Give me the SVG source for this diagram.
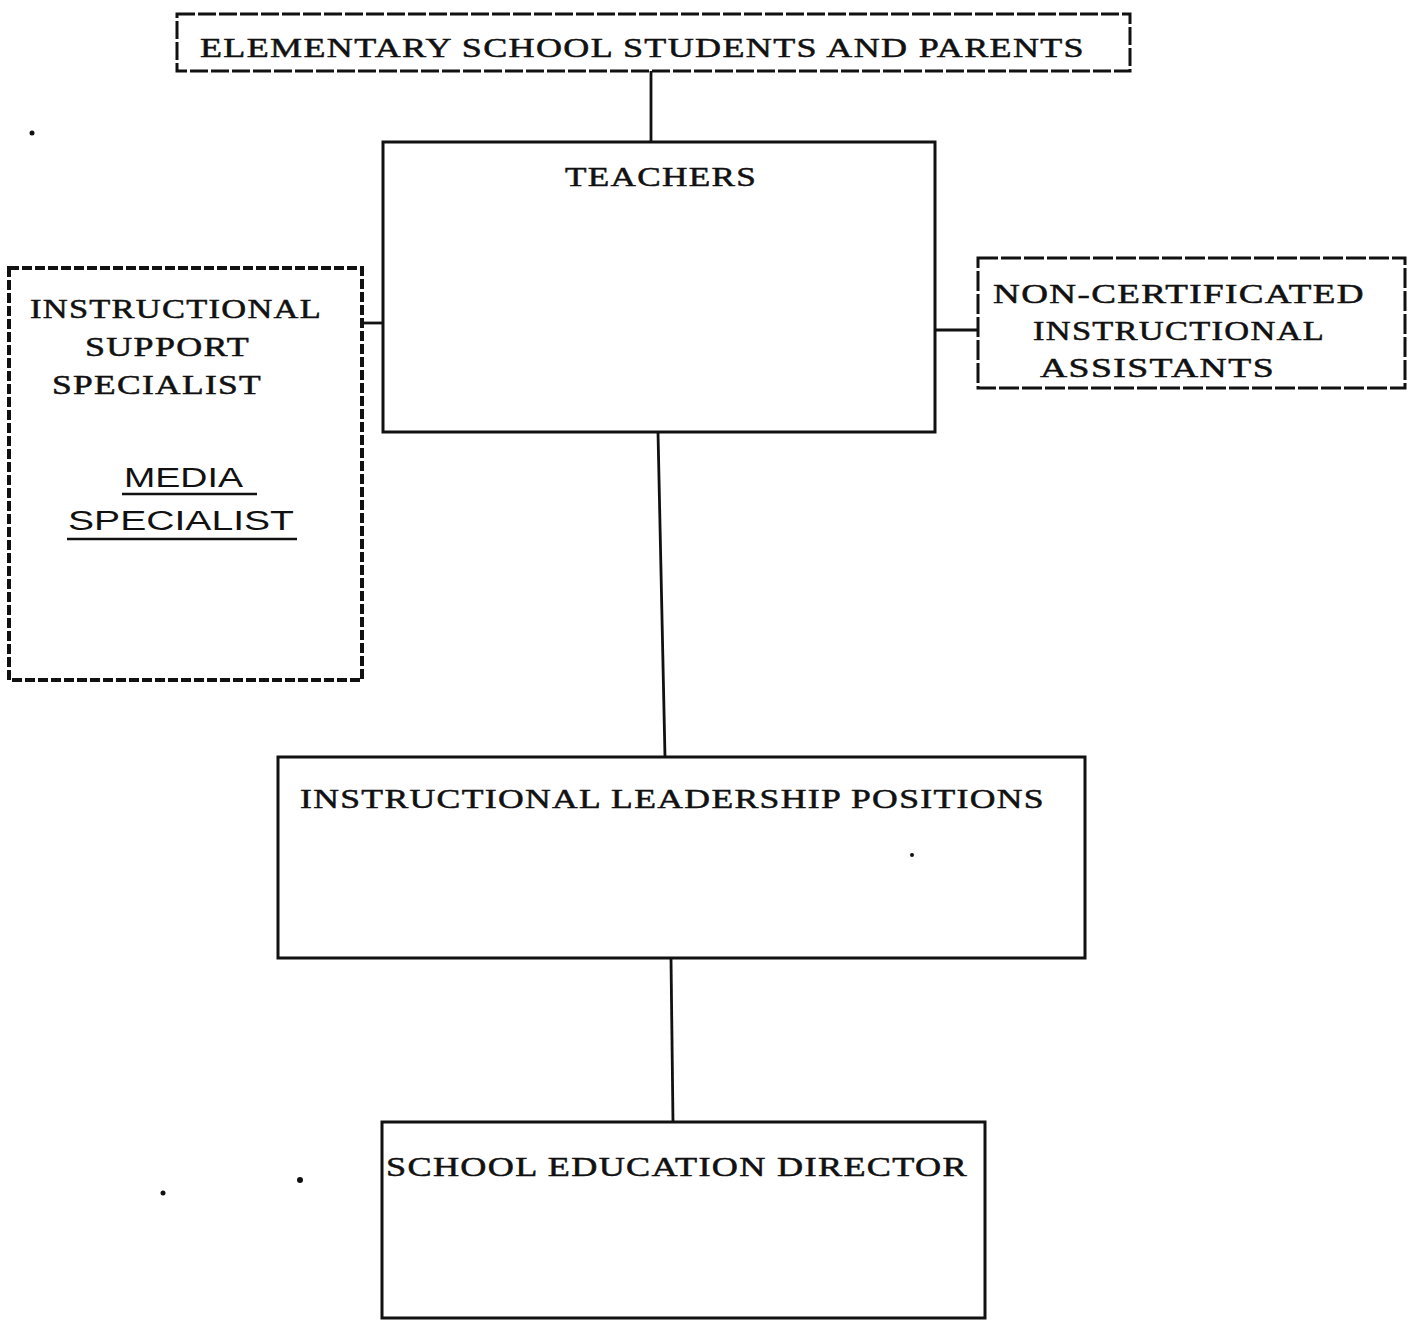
<svg xmlns="http://www.w3.org/2000/svg" width="1410" height="1332" viewBox="0 0 1410 1332">
<style>
.box{fill:none;stroke:#111;stroke-width:3}
.thick{stroke-width:4}
.conn{stroke:#111;stroke-width:2.8;fill:none}
.ul{stroke:#111;stroke-width:2.5;fill:none}
.t{font-family:"Liberation Serif","DejaVu Serif",serif;font-size:27px;fill:#111;stroke:#111;stroke-width:0.5;letter-spacing:1px}
.s{font-family:"Liberation Sans","DejaVu Sans",sans-serif;font-size:27px;fill:#111}
.dot{fill:#111}
</style>
<rect width="1410" height="1332" fill="#fff"/>
<g id="connectors">
<line class="conn" x1="651" y1="71" x2="651" y2="142"/>
<line class="conn" x1="362" y1="323" x2="383" y2="323"/>
<line class="conn" x1="935" y1="330" x2="978" y2="330"/>
<line class="conn" x1="658" y1="432" x2="665" y2="757"/>
<line class="conn" x1="671" y1="958" x2="673" y2="1122"/>
</g>
<g id="students-parents">
<rect class="box" x="177" y="14" width="953" height="57" stroke-dasharray="18 3"/>
<text class="t" x="200" y="57" textLength="885" lengthAdjust="spacingAndGlyphs">ELEMENTARY SCHOOL STUDENTS AND PARENTS</text>
</g>
<g id="teachers">
<rect class="box" x="383" y="142" width="552" height="290"/>
<text class="t" x="565" y="186" textLength="192" lengthAdjust="spacingAndGlyphs">TEACHERS</text>
</g>
<g id="instructional-support">
<rect class="box thick" x="9" y="268" width="353" height="412" stroke-dasharray="10 3"/>
<text class="t" x="30" y="318" textLength="292" lengthAdjust="spacingAndGlyphs">INSTRUCTIONAL</text>
<text class="t" x="85" y="356" textLength="165" lengthAdjust="spacingAndGlyphs">SUPPORT</text>
<text class="t" x="52" y="394" textLength="210" lengthAdjust="spacingAndGlyphs">SPECIALIST</text>
<text class="s" x="124" y="487" textLength="119" lengthAdjust="spacingAndGlyphs">MEDIA</text>
<line class="ul" x1="122" y1="494" x2="257" y2="494"/>
<text class="s" x="68" y="530" textLength="226" lengthAdjust="spacingAndGlyphs">SPECIALIST</text>
<line class="ul" x1="67" y1="539" x2="297" y2="539"/>
</g>
<g id="non-certificated">
<rect class="box" x="978" y="258" width="427" height="130" stroke-dasharray="20 3"/>
<text class="t" x="993" y="303" textLength="372" lengthAdjust="spacingAndGlyphs">NON-CERTIFICATED</text>
<text class="t" x="1033" y="340" textLength="292" lengthAdjust="spacingAndGlyphs">INSTRUCTIONAL</text>
<text class="t" x="1040" y="377" textLength="235" lengthAdjust="spacingAndGlyphs">ASSISTANTS</text>
</g>
<g id="leadership">
<rect class="box" x="278" y="757" width="807" height="201"/>
<text class="t" x="300" y="808" textLength="745" lengthAdjust="spacingAndGlyphs">INSTRUCTIONAL LEADERSHIP POSITIONS</text>
</g>
<g id="director">
<rect class="box" x="382" y="1122" width="603" height="196"/>
<text class="t" x="386" y="1176" textLength="582" lengthAdjust="spacingAndGlyphs">SCHOOL EDUCATION DIRECTOR</text>
</g>
<circle class="dot" cx="32" cy="133" r="2.5"/>
<circle class="dot" cx="163" cy="1193" r="2.5"/>
<circle class="dot" cx="300" cy="1180" r="3"/>
<circle class="dot" cx="912" cy="855" r="2"/>
</svg>
